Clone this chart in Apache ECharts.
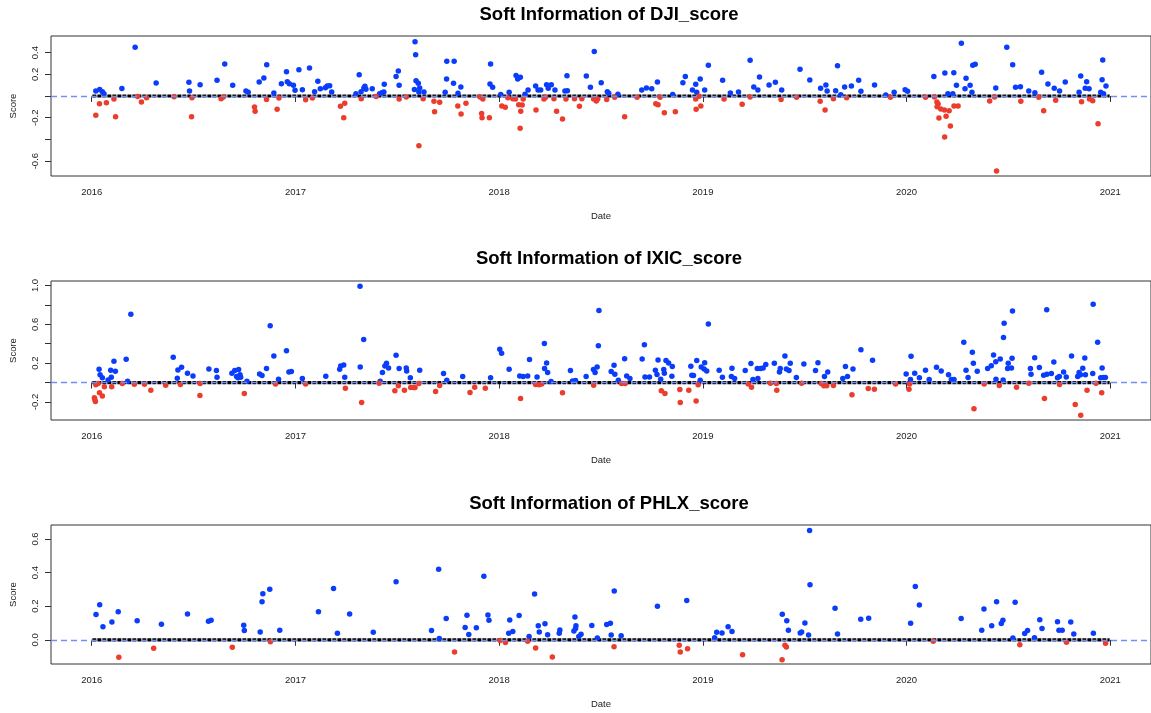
<!DOCTYPE html>
<html>
<head>
<meta charset="utf-8">
<script src="https://cdn.jsdelivr.net/npm/echarts@6/dist/echarts.min.js"></script>
<style>
html,body{margin:0;padding:0;background:#fff;}
#chart{width:1151px;height:713px;}
</style>
</head>
<body>
<div id="chart"></div>
<script>
// ---------- data (decimal year, score) ----------
const titles = ["Soft Information of DJI_score", "Soft Information of IXIC_score", "Soft Information of PHLX_score"];
const yearTicks = [2016, 2017, 2018, 2019, 2020, 2021];
const zeroSpan = [[2016.003, 0], [2020.997, 0]];

const djiYTicks = [-0.6, -0.4, -0.2, 0, 0.2, 0.4];
const djiYLabels = [-0.6, -0.2, 0.2, 0.4];
const ixicYTicks = [-0.2, 0, 0.2, 0.4, 0.6, 0.8, 1.0];
const ixicYLabels = [-0.2, 0.2, 0.6, 1.0];
const phlxYTicks = [0, 0.2, 0.4, 0.6];
const phlxYLabels = [0, 0.2, 0.4, 0.6];

const djiPos = [[2016.020,0.046],[2016.039,0.060],[2016.052,0.040],[2016.060,0.020],[2016.148,0.070],[2016.213,0.450],[2016.316,0.120],[2016.477,0.126],[2016.480,0.046],[2016.532,0.104],[2016.615,0.145],[2016.653,0.295],[2016.692,0.099],[2016.757,0.046],[2016.768,0.034],[2016.822,0.129],[2016.845,0.166],[2016.859,0.289],[2016.894,0.028],[2016.931,0.113],[2016.956,0.224],[2016.960,0.132],[2016.970,0.113],[2016.990,0.099],[2016.998,0.052],[2017.017,0.242],[2017.034,0.058],[2017.069,0.258],[2017.094,0.040],[2017.110,0.135],[2017.122,0.067],[2017.147,0.077],[2017.156,0.092],[2017.168,0.095],[2017.178,0.037],[2017.297,0.021],[2017.313,0.196],[2017.322,0.040],[2017.336,0.074],[2017.341,0.089],[2017.346,0.062],[2017.377,0.067],[2017.413,0.021],[2017.424,0.030],[2017.434,0.037],[2017.436,0.108],[2017.494,0.180],[2017.505,0.230],[2017.509,0.099],[2017.584,0.060],[2017.587,0.500],[2017.590,0.380],[2017.592,0.140],[2017.603,0.117],[2017.606,0.037],[2017.610,0.074],[2017.631,0.037],[2017.735,0.034],[2017.742,0.157],[2017.743,0.320],[2017.776,0.117],[2017.779,0.320],[2017.798,0.025],[2017.812,0.083],[2017.955,0.110],[2017.958,0.295],[2017.968,0.080],[2018.008,0.013],[2018.049,0.034],[2018.083,0.190],[2018.091,0.157],[2018.104,0.172],[2018.127,0.016],[2018.142,0.055],[2018.179,0.092],[2018.191,0.055],[2018.204,0.055],[2018.233,0.104],[2018.241,0.071],[2018.256,0.104],[2018.274,0.055],[2018.323,0.046],[2018.333,0.187],[2018.335,0.049],[2018.428,0.184],[2018.448,0.080],[2018.467,0.410],[2018.501,0.123],[2018.531,0.040],[2018.538,0.025],[2018.583,0.016],[2018.700,0.055],[2018.723,0.074],[2018.749,0.067],[2018.777,0.129],[2018.852,0.013],[2018.902,0.123],[2018.914,0.180],[2018.949,0.055],[2018.965,0.108],[2018.970,0.034],[2018.987,0.157],[2019.009,0.055],[2019.027,0.283],[2019.097,0.145],[2019.135,0.028],[2019.175,0.037],[2019.232,0.329],[2019.250,0.083],[2019.270,0.055],[2019.278,0.175],[2019.325,0.101],[2019.356,0.126],[2019.387,0.055],[2019.477,0.246],[2019.525,0.147],[2019.578,0.071],[2019.604,0.101],[2019.610,0.046],[2019.652,0.049],[2019.661,0.279],[2019.677,0.012],[2019.696,0.083],[2019.729,0.092],[2019.765,0.145],[2019.776,0.043],[2019.843,0.101],[2019.898,0.009],[2019.939,0.034],[2019.993,0.058],[2020.005,0.043],[2020.134,0.180],[2020.188,0.212],[2020.203,0.021],[2020.227,0.021],[2020.232,0.215],[2020.245,0.099],[2020.269,0.486],[2020.287,0.067],[2020.292,0.163],[2020.312,0.099],[2020.321,0.034],[2020.325,0.283],[2020.337,0.292],[2020.438,0.074],[2020.492,0.449],[2020.521,0.289],[2020.535,0.080],[2020.559,0.086],[2020.600,0.046],[2020.630,0.030],[2020.663,0.218],[2020.694,0.110],[2020.725,0.071],[2020.751,0.046],[2020.779,0.129],[2020.847,0.034],[2020.855,0.184],[2020.877,0.071],[2020.884,0.132],[2020.896,0.067],[2020.953,0.034],[2020.960,0.150],[2020.963,0.332],[2020.967,0.021],[2020.979,0.092]];

const djiNeg = [[2016.020,-0.178],[2016.038,-0.071],[2016.072,-0.062],[2016.109,-0.028],[2016.117,-0.190],[2016.225,-0.005],[2016.244,-0.055],[2016.269,-0.016],[2016.404,-0.006],[2016.490,-0.190],[2016.492,-0.016],[2016.635,-0.025],[2016.646,-0.009],[2016.799,-0.101],[2016.802,-0.141],[2016.858,-0.031],[2016.910,-0.123],[2016.919,-0.018],[2017.050,-0.034],[2017.083,-0.018],[2017.221,-0.095],[2017.237,-0.200],[2017.242,-0.067],[2017.323,-0.025],[2017.396,-0.005],[2017.509,-0.028],[2017.544,-0.010],[2017.606,-0.458],[2017.627,-0.025],[2017.680,-0.049],[2017.683,-0.145],[2017.708,-0.058],[2017.797,-0.092],[2017.813,-0.166],[2017.837,-0.067],[2017.906,-0.009],[2017.914,-0.160],[2017.916,-0.200],[2017.920,-0.028],[2017.952,-0.200],[2018.013,-0.092],[2018.030,-0.104],[2018.043,-0.016],[2018.067,-0.025],[2018.080,-0.028],[2018.096,-0.080],[2018.103,-0.298],[2018.106,-0.141],[2018.113,-0.083],[2018.118,-0.028],[2018.181,-0.129],[2018.220,-0.028],[2018.228,-0.012],[2018.269,-0.025],[2018.282,-0.141],[2018.311,-0.212],[2018.328,-0.028],[2018.370,-0.025],[2018.394,-0.095],[2018.406,-0.025],[2018.464,-0.028],[2018.477,-0.046],[2018.484,-0.028],[2018.528,-0.031],[2018.567,-0.012],[2018.616,-0.190],[2018.677,-0.012],[2018.769,-0.071],[2018.780,-0.080],[2018.790,-0.012],[2018.811,-0.154],[2018.865,-0.145],[2018.965,-0.028],[2018.967,-0.123],[2018.982,-0.003],[2018.990,-0.092],[2019.104,-0.028],[2019.193,-0.077],[2019.232,-0.009],[2019.384,-0.031],[2019.460,-0.012],[2019.576,-0.049],[2019.600,-0.129],[2019.641,-0.025],[2019.706,-0.016],[2019.921,-0.012],[2020.093,-0.012],[2020.137,-0.009],[2020.149,-0.055],[2020.155,-0.074],[2020.150,-0.098],[2020.168,-0.120],[2020.159,-0.203],[2020.186,-0.129],[2020.194,-0.187],[2020.209,-0.135],[2020.187,-0.378],[2020.215,-0.276],[2020.233,-0.092],[2020.253,-0.092],[2020.408,-0.046],[2020.432,-0.009],[2020.442,-0.691],[2020.561,-0.049],[2020.649,-0.012],[2020.673,-0.135],[2020.732,-0.040],[2020.859,-0.052],[2020.898,-0.028],[2020.914,-0.043],[2020.940,-0.255]];

const ixicPos = [[2016.036,0.137],[2016.041,0.079],[2016.052,0.048],[2016.080,0.027],[2016.093,0.126],[2016.096,0.055],[2016.109,0.219],[2016.116,0.116],[2016.169,0.239],[2016.176,0.014],[2016.192,0.704],[2016.400,0.260],[2016.420,0.044],[2016.423,0.130],[2016.441,0.157],[2016.470,0.096],[2016.497,0.068],[2016.575,0.140],[2016.612,0.123],[2016.615,0.055],[2016.688,0.096],[2016.702,0.123],[2016.711,0.062],[2016.718,0.048],[2016.721,0.133],[2016.728,0.079],[2016.731,0.055],[2016.762,0.014],[2016.824,0.089],[2016.836,0.072],[2016.858,0.144],[2016.876,0.585],[2016.894,0.274],[2016.917,0.034],[2016.956,0.328],[2016.968,0.109],[2016.980,0.113],[2017.034,0.041],[2017.149,0.065],[2017.217,0.137],[2017.222,0.171],[2017.237,0.181],[2017.242,0.055],[2017.317,0.991],[2017.318,0.161],[2017.335,0.444],[2017.416,0.014],[2017.427,0.103],[2017.439,0.171],[2017.447,0.198],[2017.457,0.150],[2017.494,0.280],[2017.509,0.144],[2017.544,0.150],[2017.546,0.120],[2017.564,0.048],[2017.610,0.126],[2017.727,0.092],[2017.743,0.024],[2017.821,0.062],[2017.958,0.048],[2018.003,0.342],[2018.012,0.301],[2018.049,0.137],[2018.101,0.068],[2018.118,0.062],[2018.140,0.068],[2018.149,0.236],[2018.186,0.058],[2018.222,0.403],[2018.223,0.144],[2018.233,0.202],[2018.238,0.103],[2018.255,0.010],[2018.350,0.123],[2018.360,0.017],[2018.375,0.021],[2018.427,0.062],[2018.463,0.133],[2018.471,0.103],[2018.481,0.161],[2018.487,0.379],[2018.490,0.742],[2018.550,0.113],[2018.564,0.178],[2018.568,0.085],[2018.585,0.024],[2018.616,0.246],[2018.626,0.068],[2018.642,0.041],[2018.702,0.243],[2018.713,0.390],[2018.716,0.058],[2018.738,0.058],[2018.767,0.126],[2018.775,0.082],[2018.780,0.232],[2018.793,0.034],[2018.808,0.133],[2018.811,0.096],[2018.819,0.226],[2018.832,0.202],[2018.848,0.065],[2018.850,0.164],[2018.941,0.168],[2018.946,0.075],[2018.954,0.072],[2018.970,0.226],[2018.987,0.024],[2018.992,0.161],[2019.006,0.140],[2019.009,0.205],[2019.019,0.120],[2019.027,0.602],[2019.080,0.126],[2019.096,0.055],[2019.140,0.062],[2019.143,0.147],[2019.156,0.041],[2019.208,0.123],[2019.236,0.195],[2019.246,0.031],[2019.267,0.144],[2019.270,0.041],[2019.283,0.144],[2019.296,0.150],[2019.309,0.185],[2019.351,0.198],[2019.376,0.109],[2019.380,0.144],[2019.403,0.274],[2019.410,0.140],[2019.423,0.123],[2019.429,0.198],[2019.459,0.051],[2019.496,0.191],[2019.553,0.123],[2019.565,0.205],[2019.597,0.062],[2019.613,0.109],[2019.687,0.041],[2019.700,0.164],[2019.710,0.062],[2019.737,0.140],[2019.776,0.338],[2019.833,0.229],[2019.998,0.089],[2020.019,0.031],[2020.022,0.270],[2020.040,0.096],[2020.063,0.048],[2020.093,0.126],[2020.111,0.031],[2020.147,0.157],[2020.170,0.120],[2020.206,0.079],[2020.220,0.031],[2020.233,0.031],[2020.281,0.414],[2020.292,0.126],[2020.302,0.051],[2020.323,0.311],[2020.328,0.198],[2020.347,0.116],[2020.398,0.144],[2020.416,0.174],[2020.427,0.284],[2020.438,0.215],[2020.439,0.034],[2020.460,0.243],[2020.474,0.027],[2020.476,0.465],[2020.479,0.612],[2020.496,0.144],[2020.499,0.198],[2020.515,0.150],[2020.518,0.250],[2020.520,0.738],[2020.608,0.144],[2020.611,0.085],[2020.629,0.256],[2020.652,0.154],[2020.673,0.075],[2020.688,0.749],[2020.689,0.085],[2020.711,0.092],[2020.723,0.212],[2020.741,0.048],[2020.750,0.062],[2020.771,0.109],[2020.784,0.058],[2020.810,0.274],[2020.840,0.062],[2020.847,0.103],[2020.854,0.079],[2020.865,0.147],[2020.875,0.253],[2020.878,0.079],[2020.914,0.092],[2020.916,0.807],[2020.938,0.414],[2020.953,0.048],[2020.960,0.150],[2020.966,0.051],[2020.976,0.051]];

const ixicNeg = [[2016.013,-0.157],[2016.015,-0.171],[2016.018,-0.195],[2016.020,-0.024],[2016.031,-0.010],[2016.038,-0.106],[2016.052,-0.140],[2016.062,-0.044],[2016.098,-0.044],[2016.150,-0.010],[2016.209,-0.017],[2016.259,-0.017],[2016.290,-0.079],[2016.363,-0.027],[2016.435,-0.021],[2016.531,-0.133],[2016.532,-0.010],[2016.749,-0.113],[2016.902,-0.014],[2017.050,-0.014],[2017.245,-0.058],[2017.325,-0.205],[2017.411,-0.007],[2017.488,-0.085],[2017.505,-0.034],[2017.535,-0.079],[2017.566,-0.051],[2017.581,-0.051],[2017.587,-0.051],[2017.606,-0.010],[2017.688,-0.092],[2017.708,-0.031],[2017.857,-0.103],[2017.880,-0.048],[2017.932,-0.058],[2018.105,-0.164],[2018.179,-0.021],[2018.196,-0.024],[2018.209,-0.014],[2018.311,-0.106],[2018.464,-0.027],[2018.601,-0.010],[2018.619,-0.010],[2018.796,-0.085],[2018.814,-0.113],[2018.887,-0.072],[2018.889,-0.205],[2018.931,-0.079],[2018.967,-0.191],[2018.977,-0.024],[2019.223,-0.014],[2019.239,-0.048],[2019.332,-0.007],[2019.361,-0.010],[2019.363,-0.079],[2019.485,-0.007],[2019.581,-0.010],[2019.594,-0.034],[2019.608,-0.034],[2019.641,-0.031],[2019.732,-0.126],[2019.812,-0.062],[2019.842,-0.068],[2019.946,-0.014],[2020.012,-0.068],[2020.015,-0.014],[2020.331,-0.270],[2020.381,-0.014],[2020.455,-0.031],[2020.540,-0.048],[2020.600,-0.007],[2020.677,-0.164],[2020.751,-0.021],[2020.828,-0.226],[2020.855,-0.338],[2020.886,-0.079],[2020.930,-0.007],[2020.958,-0.106]];

const phlxPos = [[2016.021,0.150],[2016.039,0.209],[2016.055,0.077],[2016.099,0.106],[2016.130,0.167],[2016.223,0.114],[2016.342,0.093],[2016.470,0.154],[2016.573,0.110],[2016.586,0.116],[2016.746,0.087],[2016.749,0.055],[2016.827,0.047],[2016.836,0.227],[2016.840,0.274],[2016.874,0.301],[2016.923,0.057],[2017.113,0.167],[2017.187,0.305],[2017.206,0.039],[2017.266,0.154],[2017.382,0.045],[2017.494,0.345],[2017.668,0.055],[2017.703,0.420],[2017.706,0.008],[2017.740,0.126],[2017.833,0.073],[2017.842,0.146],[2017.851,0.032],[2017.888,0.071],[2017.925,0.378],[2017.945,0.148],[2017.950,0.116],[2018.047,0.039],[2018.052,0.118],[2018.067,0.049],[2018.098,0.144],[2018.147,0.020],[2018.174,0.272],[2018.192,0.083],[2018.197,0.047],[2018.225,0.095],[2018.238,0.030],[2018.295,0.039],[2018.298,0.059],[2018.367,0.053],[2018.372,0.136],[2018.375,0.067],[2018.377,0.083],[2018.391,0.020],[2018.402,0.033],[2018.455,0.085],[2018.482,0.010],[2018.528,0.091],[2018.546,0.099],[2018.550,0.028],[2018.565,0.290],[2018.599,0.024],[2018.777,0.199],[2018.921,0.234],[2019.058,0.012],[2019.068,0.045],[2019.094,0.041],[2019.124,0.077],[2019.143,0.049],[2019.390,0.152],[2019.412,0.114],[2019.420,0.057],[2019.478,0.041],[2019.485,0.047],[2019.501,0.100],[2019.519,0.028],[2019.524,0.650],[2019.526,0.327],[2019.649,0.187],[2019.661,0.035],[2019.775,0.122],[2019.814,0.128],[2020.020,0.099],[2020.043,0.317],[2020.063,0.207],[2020.268,0.126],[2020.369,0.057],[2020.380,0.183],[2020.418,0.083],[2020.442,0.227],[2020.465,0.097],[2020.473,0.116],[2020.522,0.010],[2020.533,0.223],[2020.580,0.037],[2020.594,0.055],[2020.628,0.012],[2020.654,0.120],[2020.665,0.067],[2020.741,0.108],[2020.748,0.057],[2020.764,0.057],[2020.806,0.106],[2020.821,0.035],[2020.917,0.039]];

const phlxNeg = [[2016.133,-0.104],[2016.304,-0.051],[2016.690,-0.045],[2016.877,-0.012],[2017.781,-0.073],[2018.005,-0.004],[2018.031,-0.016],[2018.140,-0.008],[2018.179,-0.049],[2018.261,-0.102],[2018.564,-0.041],[2018.884,-0.032],[2018.889,-0.073],[2018.925,-0.053],[2019.195,-0.089],[2019.389,-0.118],[2019.403,-0.032],[2019.410,-0.043],[2020.131,-0.008],[2020.556,-0.030],[2020.785,-0.014],[2020.977,-0.020]];

// ---------- layout / style ----------
const FONT = '"Liberation Sans", Arial, Helvetica, sans-serif';
const BLUE = '#0a3dfb', RED = '#ec3c2c', DASH = '#6f8ef7';
const panels = [
  {top: 36, height: 140, min: -0.737, max: 0.553, ticks: djiYTicks, labels: djiYLabels, pos: djiPos, neg: djiNeg, titleTop: 0},
  {top: 281, height: 139, min: -0.386, max: 1.046, ticks: ixicYTicks, labels: ixicYLabels, pos: ixicPos, neg: ixicNeg, titleTop: 244},
  {top: 525, height: 139, min: -0.144, max: 0.683, ticks: phlxYTicks, labels: phlxYLabels, pos: phlxPos, neg: phlxNeg, titleTop: 489}
];

const option = {
  animation: false,
  backgroundColor: '#fff',
  textStyle: {fontFamily: FONT},
  title: [], grid: [], xAxis: [], yAxis: [], series: []
};

panels.forEach((p, i) => {
  option.title.push({
    text: titles[i], left: 604, top: p.titleTop, textAlign: 'center',
    textStyle: {fontFamily: FONT, fontWeight: 'bold', fontSize: 18.5, color: '#000'}
  });
  option.grid.push({
    left: 51, right: -5, top: p.top, height: p.height,
    show: true, borderColor: '#333', borderWidth: 1, backgroundColor: 'transparent'
  });
  option.xAxis.push({
    type: 'value', gridIndex: i, min: 2015.8, max: 2021.2,
    name: 'Date', nameLocation: 'middle', nameGap: 35.5,
    nameTextStyle: {fontFamily: FONT, fontSize: 9.5, color: '#222'},
    axisLine: {show: false},
    axisTick: {show: true, inside: false, length: 6, customValues: yearTicks, lineStyle: {color: '#333'}},
    axisLabel: {show: true, margin: 11.5, customValues: yearTicks, fontSize: 9.5, color: '#222', fontFamily: FONT,
      formatter: v => String(Math.round(v))},
    splitLine: {show: false}
  });
  option.yAxis.push({
    type: 'value', gridIndex: i, min: p.min, max: p.max,
    name: 'Score', nameLocation: 'middle', nameGap: 33, nameRotate: 90,
    nameTextStyle: {fontFamily: FONT, fontSize: 9.5, color: '#222'},
    axisLine: {show: false},
    axisTick: {show: true, inside: false, length: 6, customValues: p.ticks, lineStyle: {color: '#333'}},
    axisLabel: {show: true, rotate: 90, margin: 11, customValues: p.labels, fontSize: 9.5, color: '#222', fontFamily: FONT,
      formatter: v => v.toFixed(1)},
    splitLine: {show: false}
  });
  // dashed reference line at zero (under the black zero points)
  option.series.push({
    type: 'line', xAxisIndex: i, yAxisIndex: i, data: zeroSpan, showSymbol: false, z: 1,
    lineStyle: {opacity: 0}, silent: true,
    markLine: {silent: true, symbol: 'none', label: {show: false}, animation: false,
      lineStyle: {color: DASH, width: 1.4, type: [6, 4]}, data: [{yAxis: 0}]}
  });
  // dense zero-score days
  option.series.push({
    type: 'line', xAxisIndex: i, yAxisIndex: i, data: zeroSpan, showSymbol: false, z: 2,
    lineStyle: {color: '#000', width: 3.2, type: [4, 1]}, silent: true
  });
  option.series.push({
    type: 'scatter', xAxisIndex: i, yAxisIndex: i, data: p.pos, symbolSize: 5.5, z: 3,
    itemStyle: {color: BLUE, opacity: 1}
  });
  option.series.push({
    type: 'scatter', xAxisIndex: i, yAxisIndex: i, data: p.neg, symbolSize: 5.5, z: 3,
    itemStyle: {color: RED, opacity: 1}
  });
});

const chart = echarts.init(document.getElementById('chart'), null, {renderer: 'canvas'});
chart.setOption(option);
</script>
</body>
</html>
